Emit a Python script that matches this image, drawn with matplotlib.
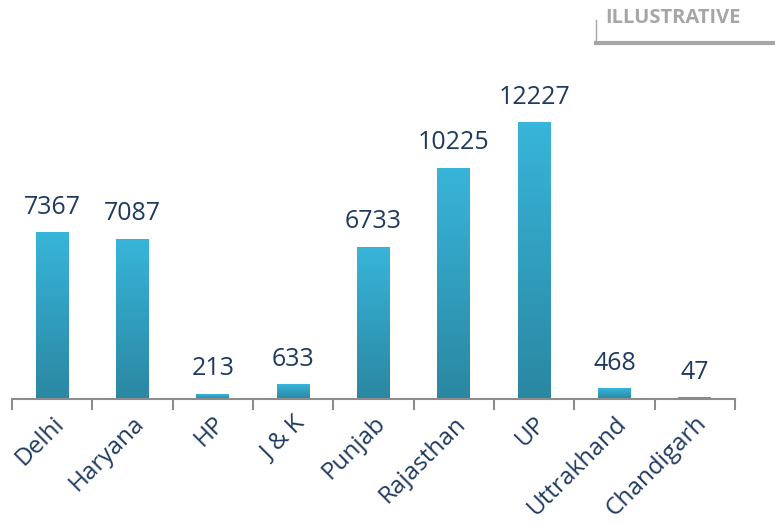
import numpy as np
import matplotlib.pyplot as plt
from matplotlib.colors import LinearSegmentedColormap

states = ['Delhi', 'Haryana', 'HP', 'J & K', 'Punjab', 'Rajasthan', 'UP', 'Uttrakhand', 'Chandigarh']
values = [7367, 7087, 213, 633, 6733, 10225, 12227, 468, 47]

plt.rcParams['font.family'] = ['Open Sans', 'DejaVu Sans']
text_col = '#1F3A60'

fig = plt.figure(figsize=(7.75, 5.25), dpi=100)
ax = fig.add_axes([12 / 775, 1 - 399 / 525, 723 / 775, 349 / 525])

x = np.arange(len(states))
width = 0.41
ymax = 15460

# gradient bars
cmap = LinearSegmentedColormap.from_list('g', ['#2A87A1', '#38B5DA'])
grad = np.linspace(0, 1, 256).reshape(-1, 1)
for xi, v in zip(x, values):
    ax.imshow(grad, cmap=cmap, aspect='auto', origin='lower',
              extent=(xi - width / 2, xi + width / 2, 0, v), zorder=2)
    ax.text(xi, v + ymax * 0.037, f'{v}', ha='center', va='bottom',
            fontsize=18, color=text_col)
ax.set_xlim(-0.5, len(states) - 0.5)
ax.set_ylim(0, ymax)

for s in ['top', 'right', 'left']:
    ax.spines[s].set_visible(False)
ax.spines['bottom'].set_color('#8C8C8C')
ax.spines['bottom'].set_linewidth(1.5)
ax.set_yticks([])

ax.set_xticks(np.arange(-0.5, len(states)), minor=False)
ax.set_xticklabels([])
ax.tick_params(axis='x', length=8, width=1.5, color='#8C8C8C', direction='out')
ax.set_xticks(x, minor=True)
ax.set_xticklabels(states, minor=True, rotation=45, ha='right',
                   rotation_mode='anchor', fontsize=17.5, color=text_col)
ax.tick_params(axis='x', which='minor', length=0, pad=9)

# ILLUSTRATIVE tag
fig.text(605 / 775, 1 - 18 / 525, 'ILLUSTRATIVE', ha='left', va='center',
         fontsize=14.5, fontweight='bold', color='#A6A6A6')
fig.add_artist(plt.Line2D([596 / 775, 596 / 775], [1 - 20 / 525, 1 - 44 / 525],
                          color='#A6A6A6', lw=1, transform=fig.transFigure))
fig.add_artist(plt.Line2D([596 / 775, 1.0], [1 - 43 / 525, 1 - 43 / 525],
                          color='#A6A6A6', lw=3, transform=fig.transFigure))

fig.savefig('out.png', dpi=100)
